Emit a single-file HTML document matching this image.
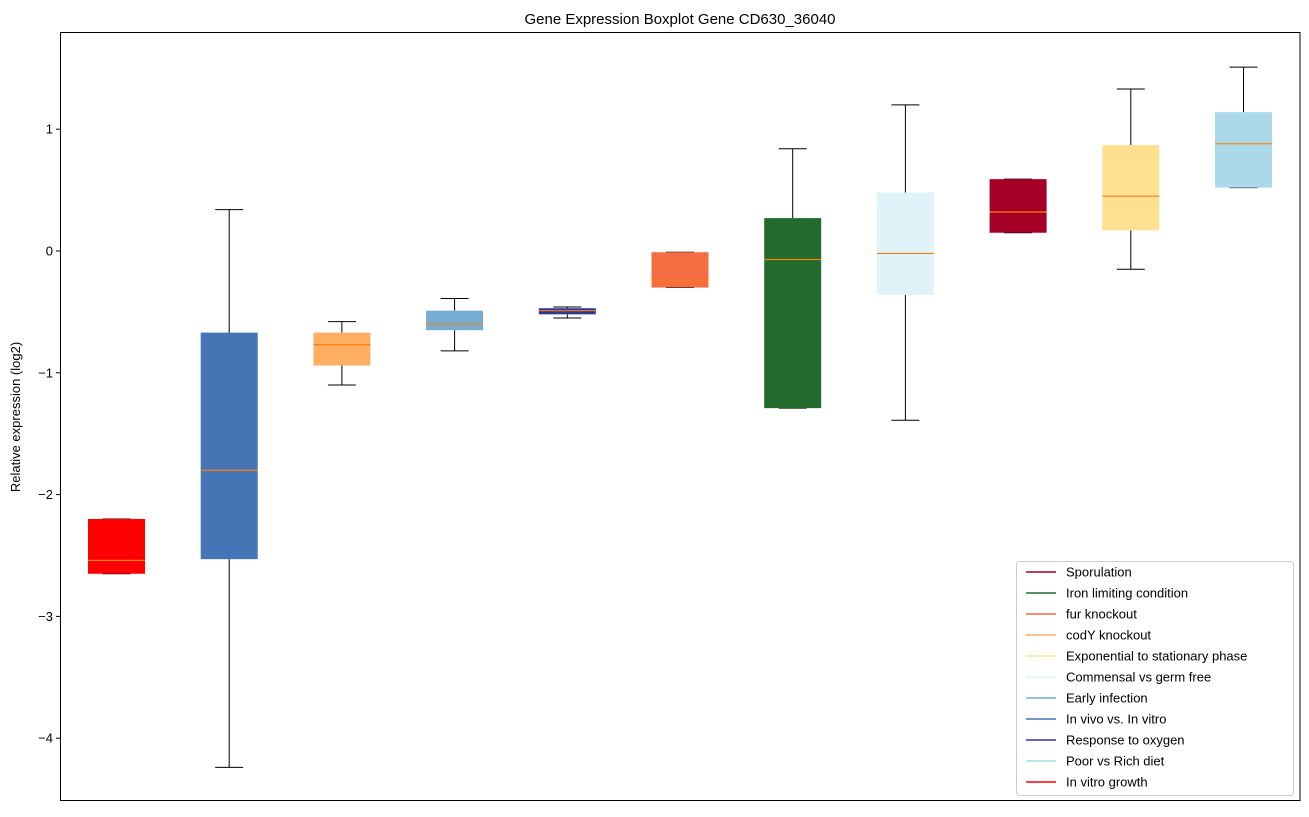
<!DOCTYPE html>
<html><head><meta charset="utf-8"><style>
body{margin:0;background:#fff;font-family:"Liberation Sans","DejaVu Sans",sans-serif}
</style></head><body>
<svg id="chart" width="1309" height="812" xmlns="http://www.w3.org/2000/svg" font-family="Liberation Sans, DejaVu Sans, sans-serif">
<rect width="1309" height="812" fill="#fff"/>
<text x="680" y="24" text-anchor="middle" font-size="15">Gene Expression Boxplot Gene CD630_36040</text>
<g id="plot"></g>
<rect x="60.5" y="32.5" width="1239.5" height="768" fill="none" stroke="#000" stroke-width="1"/>
<text transform="translate(20,417) rotate(-90)" text-anchor="middle" font-size="13">Relative expression (log2)</text>
<g id="yaxis"></g>
<g id="legend"></g>
</svg>
<script>
const categories=["In vitro growth","In vivo vs. In vitro","codY knockout","Early infection","Response to oxygen","fur knockout","Iron limiting condition","Commensal vs germ free","Sporulation","Exponential to stationary phase","Poor vs Rich diet"];
const colors=["#ff0000","#4575b4","#fdae61","#74add1","#313695","#f46d43","#226b2c","#e0f3f8","#a50026","#fee090","#abd9e9"];
const lows=[-2.65,-4.24,-1.10,-0.82,-0.55,-0.30,-1.29,-1.39,0.15,-0.15,0.52];
const q1s=[-2.65,-2.53,-0.94,-0.65,-0.52,-0.30,-1.29,-0.36,0.15,0.17,0.52];
const medians=[-2.54,-1.80,-0.77,-0.60,-0.49,-0.24,-0.07,-0.02,0.32,0.45,0.88];
const q3s=[-2.20,-0.67,-0.67,-0.49,-0.47,-0.01,0.27,0.48,0.59,0.87,1.14];
const highs=[-2.20,0.34,-0.58,-0.39,-0.46,-0.01,0.84,1.20,0.59,1.33,1.51];
const yTicks=[1,0,-1,-2,-3,-4];
const legendOrder=[8,6,5,2,9,7,3,1,4,10,0];
const NS="http://www.w3.org/2000/svg";
const y=v=>251-v*121.8;
const x=i=>116.5+i*112.7;
function mk(tag,attrs,parent){const e=document.createElementNS(NS,tag);for(const k in attrs)e.setAttribute(k,attrs[k]);parent.appendChild(e);return e;}
const plot=document.getElementById('plot');
categories.forEach((c,i)=>{
  const g=mk('g',{},plot);
  
  
  const cx=x(i),hw=28.5,cw=14;
  mk('line',{x1:cx,x2:cx,y1:y(highs[i]),y2:y(q3s[i]),stroke:'#000'},g);
  mk('line',{x1:cx,x2:cx,y1:y(q1s[i]),y2:y(lows[i]),stroke:'#000'},g);
  mk('line',{x1:cx-cw,x2:cx+cw,y1:y(highs[i]),y2:y(highs[i]),stroke:'#000'},g);
  mk('line',{x1:cx-cw,x2:cx+cw,y1:y(lows[i]),y2:y(lows[i]),stroke:'#000'},g);
  mk('rect',{x:cx-hw,y:y(q3s[i]),width:2*hw,height:Math.max(1,y(q1s[i])-y(q3s[i])),fill:colors[i]},g);
  mk('line',{x1:cx-hw,x2:cx+hw,y1:y(medians[i]),y2:y(medians[i]),stroke:'#ff7f0e','stroke-width':1.2},g);
});
const ya=document.getElementById('yaxis');
yTicks.forEach(t=>{
  const g=mk('g',{},ya);
  
  
  mk('line',{x1:56,x2:60,y1:y(t),y2:y(t),stroke:'#000'},g);
  const tx=mk('text',{x:53,y:y(t)+4.5,'text-anchor':'end','font-size':13},g);
  tx.textContent=(t<0?'\u2212'+(-t):t);
});
const lg=document.getElementById('legend');


mk('rect',{x:1016.5,y:561.5,width:277,height:234,rx:3,fill:'#fff',stroke:'#ccc'},lg);
legendOrder.forEach((idx,k)=>{
  const g=mk('g',{},lg);
  
  
  const yy=572+k*21;
  mk('line',{x1:1026,x2:1056,y1:yy,y2:yy,stroke:colors[idx],'stroke-width':1.6},g);
  const t=mk('text',{x:1066,y:yy+4.5,'font-size':13},g);
  t.textContent=categories[idx];
});
</script>
</body></html>
